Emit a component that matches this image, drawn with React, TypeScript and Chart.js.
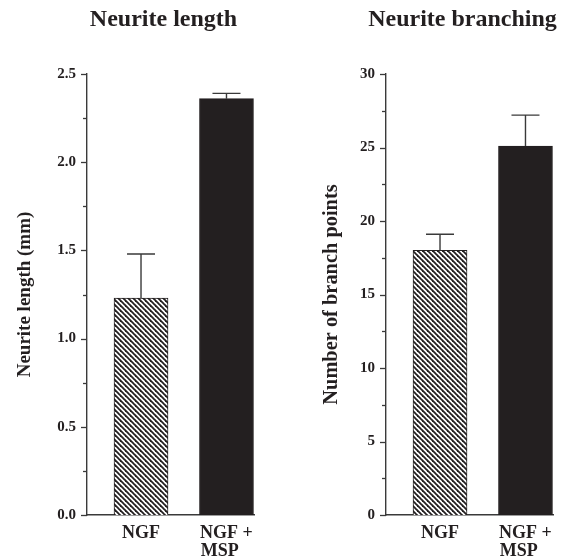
import React, { useEffect, useRef } from 'react';
import { Chart, registerables } from 'chart.js';

Chart.register(...registerables);

// ---- data ----
const categories = ['NGF', 'NGF + MSP'];
const categoryPositions = [1, 2];
const xTickLines = [['NGF'], ['NGF +', 'MSP\u00a0\u00a0\u00a0']];

const lengthMeans = [1.23, 2.36];
const lengthErrors = [0.25, 0.03];
const lengthTickStep = 0.25;
const lengthLabelStep = 0.5;

const branchMeans = [18.0, 25.1];
const branchErrors = [1.1, 2.1];
const branchTickStep = 2.5;
const branchLabelStep = 5;

const INK = '#231f20';
const FONT = "'Liberation Serif', 'Times New Roman', Times, serif";

function makeHatch(): CanvasPattern | string {
  const tile = document.createElement('canvas');
  const p = 5;
  tile.width = p;
  tile.height = p;
  const c = tile.getContext('2d');
  if (!c) return INK;
  c.fillStyle = '#ffffff';
  c.fillRect(0, 0, p, p);
  c.strokeStyle = INK;
  c.lineWidth = 1.8;
  for (const off of [-p, 0, p]) {
    c.beginPath();
    c.moveTo(off - 1, -1);
    c.lineTo(off + p + 1, p + 1);
    c.stroke();
  }
  const main = document.createElement('canvas').getContext('2d');
  return (main && main.createPattern(tile, 'repeat')) || INK;
}

const decorPlugin = {
  id: 'panelDecor',
  afterDatasetsDraw(chart: any, _args: any, opts: any) {
    const ctx = chart.ctx;
    const y = chart.scales.y;
    const meta = chart.getDatasetMeta(0);
    const means: number[] = opts.means;
    const errs: number[] = opts.errors;
    ctx.save();
    ctx.strokeStyle = '#3a3a3a';
    ctx.lineWidth = 1.4;
    meta.data.forEach((el: any, i: number) => {
      const top = y.getPixelForValue(means[i] + errs[i]);
      ctx.beginPath();
      ctx.moveTo(el.x, el.y);
      ctx.lineTo(el.x, top);
      ctx.moveTo(el.x - 14, top);
      ctx.lineTo(el.x + 14, top);
      ctx.stroke();
    });
    ctx.restore();
  },
  afterDraw(chart: any, _args: any, opts: any) {
    const ctx = chart.ctx;
    const y = chart.scales.y;
    const left = chart.chartArea.left;
    ctx.save();
    ctx.strokeStyle = '#3a3a3a';
    ctx.lineWidth = 1.3;
    y.ticks.forEach((t: any) => {
      const py = Math.round(y.getPixelForValue(t.value)) + 0.5;
      const len = t.label !== '' ? 6 : 4;
      ctx.beginPath();
      ctx.moveTo(left - len, py);
      ctx.lineTo(left, py);
      ctx.stroke();
    });
    ctx.fillStyle = INK;
    ctx.font = `bold 24px ${FONT}`;
    ctx.textAlign = 'center';
    ctx.textBaseline = 'middle';
    const cx = (chart.chartArea.left + chart.chartArea.right) / 2 + opts.titleShift;
    ctx.fillText(opts.title, cx, 20);
    ctx.restore();
  },
};

type PanelProps = {
  title: string;
  yTitle: string;
  yTitleSize: number;
  means: number[];
  errors: number[];
  yMax: number;
  step: number;
  labelStep: number;
  decimals: number;
  axisWidth: number;
  yTitlePad: number;
  rightPad: number;
};

function Panel(props: PanelProps) {
  const ref = useRef<HTMLCanvasElement | null>(null);
  useEffect(() => {
    if (!ref.current) return;
    const hatch = makeHatch();
    const chart = new Chart(ref.current, {
      type: 'bar',
      data: {
        datasets: [
          {
            data: categoryPositions.map((x, i) => ({ x, y: props.means[i] })),
            backgroundColor: [hatch, INK],
            borderColor: INK,
            borderWidth: 1,
            barThickness: 54,
          },
        ],
      },
      options: {
        responsive: false,
        animation: false,
        layout: { padding: { top: 74, left: 0, right: props.rightPad, bottom: 0 } },
        plugins: {
          legend: { display: false },
          tooltip: { enabled: false },
          title: { display: false },
          panelDecor: {
            title: props.title,
            titleShift: -7,
            means: props.means,
            errors: props.errors,
          },
        } as any,
        scales: {
          x: {
            type: 'linear',
            offset: false,
            min: 0.368,
            max: 2.322,
            afterBuildTicks: (s: any) => {
              s.ticks = categoryPositions.map((v) => ({ value: v }));
            },
            afterFit: (s: any) => {
              s.height = 43;
            },
            grid: { display: false, drawTicks: false },
            border: { display: true, color: '#3a3a3a', width: 1.4 },
            ticks: {
              autoSkip: false,
              maxRotation: 0,
              padding: 9,
              color: INK,
              font: { family: FONT, size: 18, weight: 'bold', lineHeight: 1.0 },
              callback: (v: any) => {
                const i = categoryPositions.indexOf(Number(v));
                return i >= 0 ? xTickLines[i] : '';
              },
            },
          },
          y: {
            type: 'linear',
            min: 0,
            max: props.yMax,
            afterFit: (s: any) => {
              s.width = props.axisWidth;
            },
            grid: { display: false, drawTicks: false },
            border: { display: true, color: '#3a3a3a', width: 1.4 },
            title: {
              display: true,
              text: props.yTitle,
              color: INK,
              font: { family: FONT, size: props.yTitleSize, weight: 'bold' },
              padding: { top: props.yTitlePad, bottom: 0 },
            },
            ticks: {
              stepSize: props.step,
              autoSkip: false,
              padding: 11,
              color: INK,
              font: { family: FONT, size: 15, weight: 'bold' },
              callback: (v: any) => {
                const n = Number(v);
                const r = n / props.labelStep;
                return Math.abs(r - Math.round(r)) < 1e-6 ? n.toFixed(props.decimals) : '';
              },
            },
          },
        },
      } as any,
      plugins: [decorPlugin],
    });
    return () => chart.destroy();
  }, []);
  return <canvas ref={ref} width={282} height={558} style={{ display: 'block' }} />;
}

export default function App() {
  return (
    <div style={{ position: 'absolute', left: 0, top: 0, width: 564, height: 558, background: '#fff' }}>
      <div style={{ position: 'absolute', left: 0, top: 0 }}>
        <Panel
          title="Neurite length"
          yTitle="Neurite length (mm)"
          yTitleSize={19}
          means={lengthMeans}
          errors={lengthErrors}
          yMax={2.5}
          step={lengthTickStep}
          labelStep={lengthLabelStep}
          decimals={1}
          axisWidth={87}
          yTitlePad={13.6}
          rightPad={28}
        />
      </div>
      <div style={{ position: 'absolute', left: 282, top: 0 }}>
        <Panel
          title="Neurite branching"
          yTitle="Number of branch points"
          yTitleSize={20.4}
          means={branchMeans}
          errors={branchErrors}
          yMax={30}
          step={branchTickStep}
          labelStep={branchLabelStep}
          decimals={0}
          axisWidth={104}
          yTitlePad={37.8}
          rightPad={11}
        />
      </div>
    </div>
  );
}
